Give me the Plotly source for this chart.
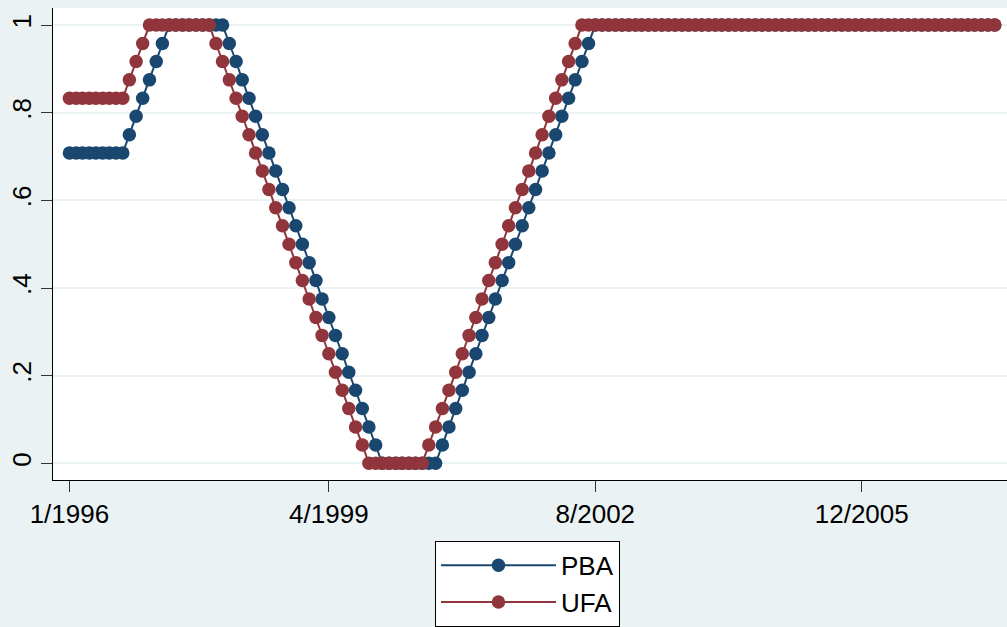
import pandas as pd
import plotly.graph_objects as go

# ---- data (monthly, starting 1/1996) ----
START_MONTH = "1996-01-01"

PBA = [
    0.708, 0.708, 0.708, 0.708, 0.708, 0.708, 0.708, 0.708, 0.708,
    0.750, 0.792, 0.833, 0.875, 0.917, 0.958,
    1, 1, 1, 1, 1, 1, 1, 1, 1,
    0.958, 0.917, 0.875, 0.833, 0.792, 0.750, 0.708, 0.667, 0.625, 0.583,
    0.542, 0.500, 0.458, 0.417, 0.375, 0.333, 0.292, 0.250, 0.208, 0.167,
    0.125, 0.083, 0.042,
    0, 0, 0, 0, 0, 0, 0, 0, 0,
    0.042, 0.083, 0.125, 0.167, 0.208, 0.250, 0.292, 0.333, 0.375, 0.417,
    0.458, 0.500, 0.542, 0.583, 0.625, 0.667, 0.708, 0.750, 0.792, 0.833,
    0.875, 0.917, 0.958,
    1, 1, 1, 1, 1, 1, 1, 1, 1, 1,
    1, 1, 1, 1, 1, 1, 1, 1, 1, 1,
    1, 1, 1, 1, 1, 1, 1, 1, 1, 1,
    1, 1, 1, 1, 1, 1, 1, 1, 1, 1,
    1, 1, 1, 1, 1, 1, 1, 1, 1, 1,
    1, 1, 1, 1, 1, 1, 1, 1, 1, 1,
    1,
]

UFA = [
    0.833, 0.833, 0.833, 0.833, 0.833, 0.833, 0.833, 0.833, 0.833,
    0.875, 0.917, 0.958,
    1, 1, 1, 1, 1, 1, 1, 1, 1, 1,
    0.958, 0.917, 0.875, 0.833, 0.792, 0.750, 0.708, 0.667, 0.625, 0.583,
    0.542, 0.500, 0.458, 0.417, 0.375, 0.333, 0.292, 0.250, 0.208, 0.167,
    0.125, 0.083, 0.042,
    0, 0, 0, 0, 0, 0, 0, 0, 0,
    0.042, 0.083, 0.125, 0.167, 0.208, 0.250, 0.292, 0.333, 0.375, 0.417,
    0.458, 0.500, 0.542, 0.583, 0.625, 0.667, 0.708, 0.750, 0.792, 0.833,
    0.875, 0.917, 0.958,
    1, 1, 1, 1, 1, 1, 1, 1, 1, 1,
    1, 1, 1, 1, 1, 1, 1, 1, 1, 1,
    1, 1, 1, 1, 1, 1, 1, 1, 1, 1,
    1, 1, 1, 1, 1, 1, 1, 1, 1, 1,
    1, 1, 1, 1, 1, 1, 1, 1, 1, 1,
    1, 1, 1, 1, 1, 1, 1, 1, 1, 1,
    1, 1, 1,
]

X_TICK_VALS = ["1996-01-01", "1999-04-01", "2002-08-01", "2005-12-01"]
X_TICK_TEXT = ["1/1996", "4/1999", "8/2002", "12/2005"]
Y_TICK_VALS = [0, 0.2, 0.4, 0.6, 0.8, 1]
Y_TICK_TEXT = ["0", ".2", ".4", ".6", ".8", "1"]

months = pd.date_range(START_MONTH, periods=len(PBA), freq="MS")

NAVY = "#1A476F"
MAROON = "#90353B"
BG = "#EAF2F3"
FONT = "Liberation Sans, Arial, sans-serif"

fig = go.Figure()
fig.add_trace(go.Scatter(
    x=months, y=PBA, name="PBA", mode="lines+markers",
    line=dict(color=NAVY, width=2),
    marker=dict(color=NAVY, size=13.5, line=dict(width=0)),
))
fig.add_trace(go.Scatter(
    x=months, y=UFA, name="UFA", mode="lines+markers",
    line=dict(color=MAROON, width=2),
    marker=dict(color=MAROON, size=13.5, line=dict(width=0)),
))

fig.update_layout(
    width=1007, height=627,
    margin=dict(l=53, r=0, t=8, b=147, autoexpand=False),
    paper_bgcolor=BG, plot_bgcolor="white",
    font=dict(family=FONT, size=26, color="black"),
    showlegend=True,
    legend=dict(
        x=0.4004, xanchor="left", y=-0.129, yanchor="top",
        bgcolor="white", bordercolor="black", borderwidth=1,
        font=dict(size=26), itemwidth=115, tracegroupgap=0,
    ),
    xaxis=dict(
        range=["1995-10-18", "2007-09-26"],
        tickmode="array", tickvals=X_TICK_VALS, ticktext=X_TICK_TEXT,
        ticks="outside", ticklen=11, tickcolor="#333333", tickwidth=1,
        showline=True, linecolor="black", linewidth=1,
        showgrid=False, zeroline=False, automargin=False,
        tickfont=dict(size=26),
    ),
    yaxis=dict(
        range=[-0.038, 1.039],
        tickmode="array", tickvals=Y_TICK_VALS, ticktext=Y_TICK_TEXT,
        ticks="outside", ticklen=11, tickcolor="#333333", tickwidth=1,
        tickangle=-90,
        showline=True, linecolor="black", linewidth=1,
        showgrid=True, gridcolor=BG, gridwidth=2,
        zeroline=False, automargin=False,
        tickfont=dict(size=26),
    ),
)

fig.write_html(
    "out.html",
    config={"displayModeBar": False},
    post_script="document.body.style.margin='0px';document.body.style.overflow='hidden';",
)
